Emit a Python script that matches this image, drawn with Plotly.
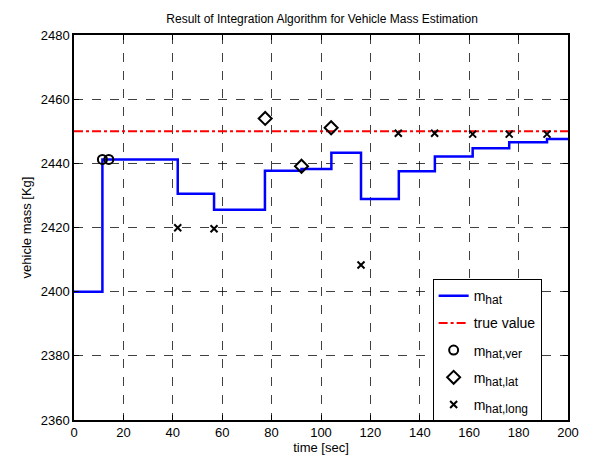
import plotly.graph_objects as go

step_t = [0, 11.5, 42.0, 56.7, 77.3, 92.1, 104.2, 116.2, 131.5, 146.1, 161.4, 176.2, 191.5, 200]
step_m = [2400, 2441.2, 2430.5, 2425.5, 2437.7, 2438.2, 2443.3, 2428.9, 2437.5, 2442.1, 2444.7, 2446.6, 2447.6, 2447.6]

true_t = [0, 200]
true_m = [2450, 2450]

ver_t = [11.5, 14.1]
ver_m = [2441.2, 2441.2]

lat_t = [77.4, 92.1, 104.1]
lat_m = [2454.0, 2439.1, 2451.1]

long_t = [42.0, 56.7, 116.2, 131.3, 146.0, 161.4, 176.2, 191.5]
long_m = [2419.9, 2419.6, 2408.3, 2449.4, 2449.4, 2449.1, 2449.1, 2449.1]

xticks = [0, 20, 40, 60, 80, 100, 120, 140, 160, 180, 200]
yticks = [2360, 2380, 2400, 2420, 2440, 2460, 2480]

FONT = "Liberation Sans, Arial, sans-serif"

def lab(main, sub=None):
    if sub is None:
        return main
    return main + "<sub><span style='font-size:12px'>" + sub + "</span></sub>"

fig = go.Figure()
fig.add_trace(go.Scatter(x=step_t, y=step_m, mode="lines", line_shape="hv",
                         line=dict(color="#0000ff", width=2.5), name=lab("m", "hat"), legendgroup="a"))
fig.add_trace(go.Scatter(x=true_t, y=true_m, mode="lines",
                         line=dict(color="#ff0000", width=2, dash="dashdot"), name="true value", legendgroup="b"))
fig.add_trace(go.Scatter(x=ver_t, y=ver_m, mode="markers",
                         marker=dict(symbol="circle-open", size=9, color="black", line=dict(width=2)),
                         name=lab("m", "hat,ver"), legendgroup="c"))
fig.add_trace(go.Scatter(x=lat_t, y=lat_m, mode="markers",
                         marker=dict(symbol="diamond-open", size=10, color="black", line=dict(width=2)),
                         name=lab("m", "hat,lat"), legendgroup="d"))
fig.add_trace(go.Scatter(x=long_t, y=long_m, mode="markers",
                         marker=dict(symbol="x-thin-open", size=7, color="black", line=dict(width=2)),
                         name=lab("m", "hat,long"), legendgroup="e"))

axis_common = dict(showline=True, linecolor="black", linewidth=1.5, mirror="ticks",
                   ticks="inside", ticklen=5, tickcolor="black",
                   showgrid=True, gridcolor="rgba(0,0,0,0.75)", griddash="dash", gridwidth=1,
                   zeroline=False, tickfont=dict(size=13, color="black", family=FONT))

fig.update_xaxes(range=[0, 200], tickvals=xticks,
                 title=dict(text="time [sec]", font=dict(size=13, color="black", family=FONT), standoff=2),
                 **axis_common)
fig.update_yaxes(range=[2360, 2480], tickvals=yticks,
                 title=dict(text="vehicle mass [Kg]", font=dict(size=13, color="black", family=FONT), standoff=6),
                 **axis_common)

fig.update_layout(
    width=591, height=463,
    margin=dict(l=74, r=19, t=35, b=39),
    paper_bgcolor="white", plot_bgcolor="white",
    title=dict(text="Result of Integration Algorithm for Vehicle Mass Estimation",
               x=0.545, xanchor="center", y=0.96, yanchor="middle",
               font=dict(size=12, color="black", family=FONT)),
    legend=dict(x=0.726, y=0.366, xanchor="left", yanchor="top",
                bgcolor="white", bordercolor="black", borderwidth=1,
                font=dict(size=14, color="black", family=FONT), tracegroupgap=6),
    showlegend=True,
)

fig.write_html("out.html")
